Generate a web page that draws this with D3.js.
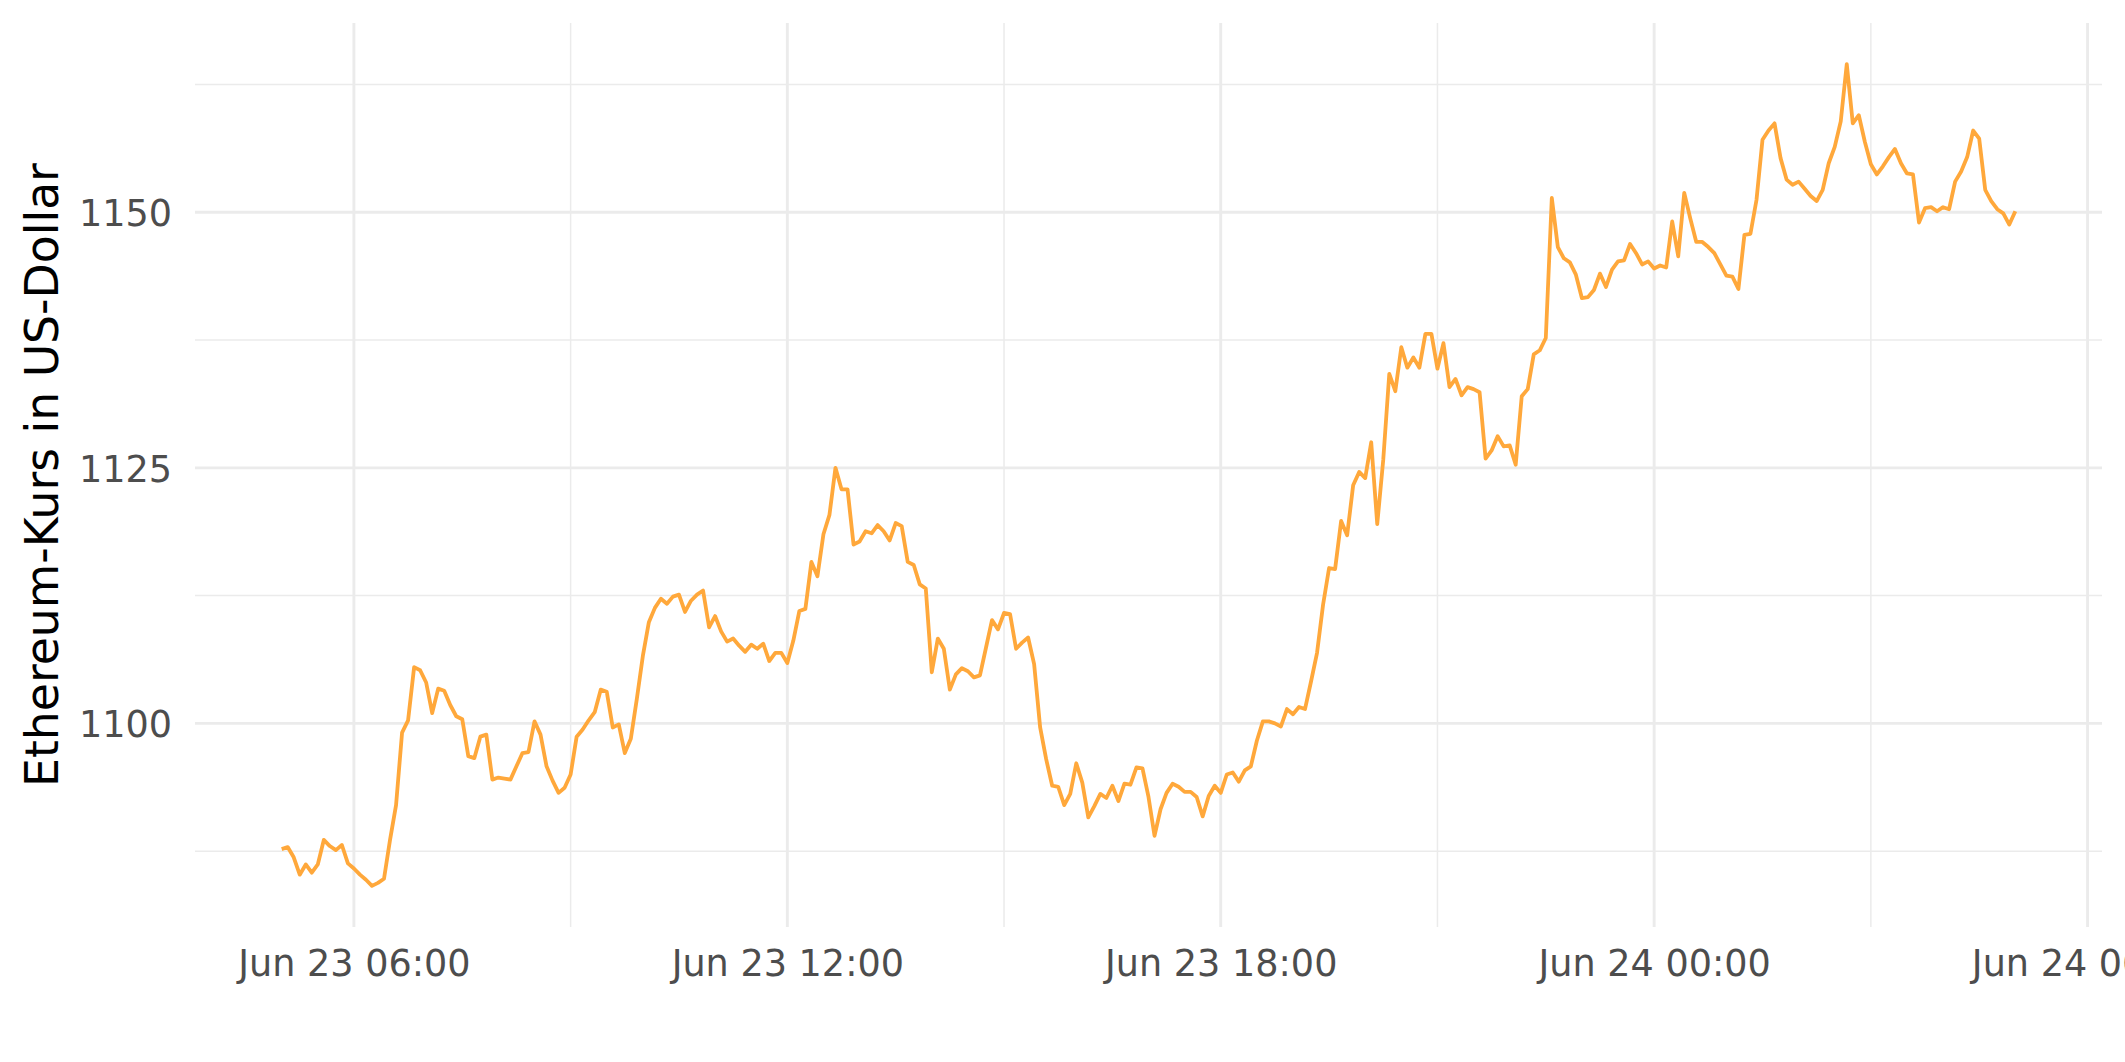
<!DOCTYPE html>
<html>
<head>
<meta charset="utf-8">
<script src="https://cdn.jsdelivr.net/npm/d3@7"></script>
<style>
  html, body { margin: 0; padding: 0; background: #ffffff; overflow: hidden; }
  svg { display: block; }
</style>
</head>
<body>
<svg id="chart" width="2125" height="1062"></svg>
<script>
// ---------------- data ----------------
// 5-minute Ethereum prices (US-Dollar), 23 Jun 05:00 -> 24 Jun 05:00
const startTime = Date.UTC(2018, 5, 23, 5, 0);
const stepMinutes = 5;
const prices = [
  1087.7, 1087.9, 1086.9, 1085.2, 1086.2, 1085.4, 1086.2, 1088.6, 1088.0, 1087.6,
  1088.1, 1086.3, 1085.8, 1085.2, 1084.7, 1084.1, 1084.4, 1084.8, 1088.6, 1092.0,
  1099.1, 1100.3, 1105.5, 1105.2, 1104.0, 1101.0, 1103.4, 1103.2, 1101.8, 1100.7,
  1100.4, 1096.8, 1096.6, 1098.7, 1098.9, 1094.5, 1094.7, 1094.6, 1094.5, 1095.8,
  1097.1, 1097.2, 1100.2, 1098.9, 1095.8, 1094.4, 1093.2, 1093.7, 1095.0, 1098.7,
  1099.4, 1100.3, 1101.1, 1103.3, 1103.1, 1099.6, 1099.9, 1097.1, 1098.5, 1102.4,
  1106.6, 1109.9, 1111.3, 1112.2, 1111.7, 1112.4, 1112.6, 1110.9, 1112.0, 1112.6,
  1113.0, 1109.4, 1110.5, 1109.0, 1108.0, 1108.3, 1107.6, 1107.0, 1107.7, 1107.3,
  1107.8, 1106.1, 1106.9, 1106.9, 1105.9, 1108.1, 1111.0, 1111.2, 1115.8, 1114.4,
  1118.5, 1120.4, 1125.0, 1122.9, 1122.9, 1117.5, 1117.8, 1118.8, 1118.6, 1119.4,
  1118.8, 1117.9, 1119.6, 1119.3, 1115.8, 1115.5, 1113.6, 1113.2, 1105.0, 1108.3,
  1107.3, 1103.3, 1104.8, 1105.4, 1105.1, 1104.5, 1104.7, 1107.4, 1110.1, 1109.2,
  1110.8, 1110.7, 1107.3, 1107.9, 1108.4, 1105.8, 1099.6, 1096.5, 1093.9, 1093.8,
  1092.0, 1093.1, 1096.1, 1094.2, 1090.8, 1091.9, 1093.1, 1092.7, 1093.9, 1092.4,
  1094.1, 1094.0, 1095.7, 1095.6, 1092.8, 1089.0, 1091.6, 1093.2, 1094.1, 1093.8,
  1093.3, 1093.3, 1092.8, 1090.9, 1092.9, 1093.9, 1093.2, 1095.0, 1095.2, 1094.3,
  1095.4, 1095.8, 1098.3, 1100.2, 1100.2, 1100.0, 1099.7, 1101.4, 1100.9, 1101.6,
  1101.4, 1104.1, 1106.9, 1111.6, 1115.2, 1115.1, 1119.8, 1118.4, 1123.3, 1124.6,
  1124.0, 1127.5, 1119.5, 1125.8, 1134.2, 1132.5, 1136.8, 1134.8, 1135.8, 1134.8,
  1138.1, 1138.1, 1134.7, 1137.2, 1132.9, 1133.7, 1132.1, 1132.9, 1132.7, 1132.4,
  1125.9, 1126.7, 1128.1, 1127.1, 1127.2, 1125.3, 1132.0, 1132.7, 1136.1, 1136.5,
  1137.7, 1151.4, 1146.6, 1145.5, 1145.1, 1143.9, 1141.6, 1141.7, 1142.4, 1144.0,
  1142.7, 1144.4, 1145.2, 1145.3, 1146.9, 1146.0, 1144.9, 1145.2, 1144.5, 1144.8,
  1144.6, 1149.1, 1145.7, 1151.9, 1149.4, 1147.1, 1147.1, 1146.6, 1146.0, 1144.9,
  1143.8, 1143.7, 1142.5, 1147.8, 1147.9, 1151.2, 1157.1, 1158.0, 1158.7, 1155.3,
  1153.2, 1152.7, 1153.0, 1152.3, 1151.6, 1151.1, 1152.2, 1154.8, 1156.4, 1158.9,
  1164.5, 1158.7, 1159.5, 1156.9, 1154.7, 1153.7, 1154.5, 1155.4, 1156.2, 1154.8,
  1153.8, 1153.7, 1149.0, 1150.4, 1150.5, 1150.1, 1150.5, 1150.3, 1153.0, 1154.0,
  1155.4, 1158.0, 1157.2, 1152.2, 1151.1, 1150.3, 1149.9, 1148.8, 1150.1
];
const xMajorTicks = [
  Date.UTC(2018, 5, 23, 6), Date.UTC(2018, 5, 23, 12), Date.UTC(2018, 5, 23, 18),
  Date.UTC(2018, 5, 24, 0), Date.UTC(2018, 5, 24, 6)
];
const xMinorTicks = [
  Date.UTC(2018, 5, 23, 9), Date.UTC(2018, 5, 23, 15),
  Date.UTC(2018, 5, 23, 21), Date.UTC(2018, 5, 24, 3)
];
const yMajorTicks = [1100, 1125, 1150];
const yMinorTicks = [1087.5, 1112.5, 1137.5, 1162.5];
const yTitle = "Ethereum-Kurs in US-Dollar";

// ---------------- layout ----------------
const W = 2125, H = 1062;
const panel = { left: 195, right: 2102, top: 23, bottom: 927 };
const FONT = "'DejaVu Sans', 'Liberation Sans', sans-serif";
const lineColor = "#FFA83B";
const gridColor = "#EBEBEB";

const data = prices.map((v, i) => ({ t: new Date(startTime + i * stepMinutes * 60000), v }));

const tExt = d3.extent(data, d => +d.t);
const tPad = (tExt[1] - tExt[0]) * 0.05;
const x = d3.scaleUtc()
  .domain([new Date(tExt[0] - tPad), new Date(tExt[1] + tPad)])
  .range([panel.left, panel.right]);

const vExt = d3.extent(data, d => d.v);
const vPad = (vExt[1] - vExt[0]) * 0.05;
const y = d3.scaleLinear()
  .domain([vExt[0] - vPad, vExt[1] + vPad])
  .range([panel.bottom, panel.top]);

const svg = d3.select("#chart");
svg.append("rect").attr("width", W).attr("height", H).attr("fill", "#ffffff");

const grid = svg.append("g");
// minor grid
grid.selectAll("line.ymin").data(yMinorTicks).enter().append("line")
  .attr("x1", panel.left).attr("x2", panel.right)
  .attr("y1", d => y(d)).attr("y2", d => y(d))
  .attr("stroke", gridColor).attr("stroke-width", 1.5);
grid.selectAll("line.xmin").data(xMinorTicks).enter().append("line")
  .attr("x1", d => x(d)).attr("x2", d => x(d))
  .attr("y1", panel.top).attr("y2", panel.bottom)
  .attr("stroke", gridColor).attr("stroke-width", 1.5);
// major grid
grid.selectAll("line.ymaj").data(yMajorTicks).enter().append("line")
  .attr("x1", panel.left).attr("x2", panel.right)
  .attr("y1", d => y(d)).attr("y2", d => y(d))
  .attr("stroke", gridColor).attr("stroke-width", 2.9);
grid.selectAll("line.xmaj").data(xMajorTicks).enter().append("line")
  .attr("x1", d => x(d)).attr("x2", d => x(d))
  .attr("y1", panel.top).attr("y2", panel.bottom)
  .attr("stroke", gridColor).attr("stroke-width", 2.9);

// line
const line = d3.line().x(d => x(d.t)).y(d => y(d.v));
svg.append("path").datum(data)
  .attr("d", line)
  .attr("fill", "none")
  .attr("stroke", lineColor)
  .attr("stroke-width", 3.8)
  .attr("stroke-linejoin", "round")
  .attr("stroke-linecap", "butt");

// axes
const fmt = d3.utcFormat("%b %d %H:%M");
const xAxis = svg.append("g")
  .attr("transform", `translate(0,${panel.bottom})`)
  .call(d3.axisBottom(x).tickValues(xMajorTicks.map(t => new Date(t))).tickFormat(fmt).tickSize(0).tickPadding(23));
const yAxis = svg.append("g")
  .attr("transform", `translate(${panel.left},0)`)
  .call(d3.axisLeft(y).tickValues(yMajorTicks).tickFormat(d3.format("d")).tickSize(0).tickPadding(23));

[xAxis, yAxis].forEach(g => {
  g.select(".domain").remove();
  g.selectAll(".tick line").remove();
  g.selectAll("text")
    .attr("font-family", FONT)
    .attr("font-size", 36.6)
    .attr("fill", "#4D4D4D");
});
yAxis.selectAll("text").attr("dy", "0.36em");

// y title
svg.append("text")
  .attr("transform", `translate(58,${(panel.top + panel.bottom) / 2}) rotate(-90)`)
  .attr("text-anchor", "middle")
  .attr("font-family", FONT)
  .attr("font-size", 45.7)
  .attr("fill", "#000000")
  .text(yTitle);
</script>
</body>
</html>
